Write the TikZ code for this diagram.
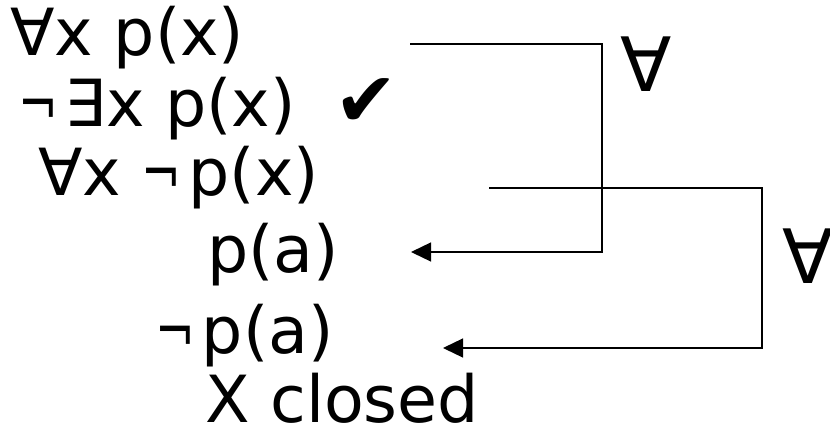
\documentclass[tikz,border=0pt]{standalone}
\usepackage{fontspec}
\setmainfont{DejaVu Sans}
\usetikzlibrary{arrows.meta}
% narrow negation sign followed by a small gap
\newcommand\nt{\scalebox{0.73}[1]{¬}\hspace{7bp}}
\begin{document}
\begin{tikzpicture}[x=1bp,y=1bp,
  formula/.style={anchor=base west,inner sep=0pt,font=\fontsize{65bp}{70bp}\selectfont},
  rule/.style={anchor=base west,inner sep=0pt,font=\fontsize{75bp}{80bp}\selectfont},
  link/.style={line width=1.3bp,-{Triangle[length=20bp,width=19bp]}}]
\useasboundingbox (0,0) rectangle (830,428);
% tableau lines
\node[formula] (l1) at (10,373) {∀x p(x)};
\node[formula] (l2) at (18,302) {\nt∃x p(x)};
\node[formula,font=\fontsize{76bp}{80bp}\selectfont] (ck) at (334,302) {✔};
\node[formula] (l3) at (38,233) {∀x \nt p(x)};
\node[formula] (l4) at (207,156) {p(a)};
\node[formula] (l5) at (155,75) {\nt p(a)};
\node[formula] (l6) at (205,6) {X closed};
% rule labels
\node[rule] (r1) at (620,337) {∀};
\node[rule] (r2) at (782,145) {∀};
% connectors
\coordinate (a0) at (410,384);
\coordinate (a1) at (602,384);
\coordinate (a2) at (411,176);
\coordinate (b0) at (489,240);
\coordinate (b1) at (762,240);
\coordinate (b2) at (443,80);
\draw[link] (a0) -- (a1) |- (a2);
\draw[link] (b0) -- (b1) |- (b2);
\end{tikzpicture}
\end{document}
